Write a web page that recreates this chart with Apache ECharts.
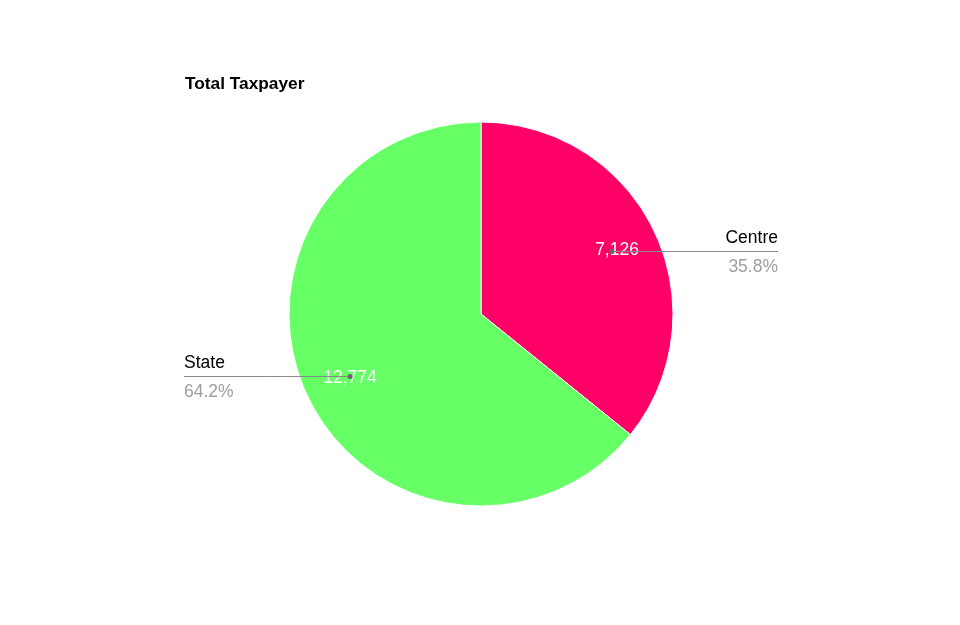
<!DOCTYPE html>
<html>
<head>
<meta charset="utf-8">
<script src="https://cdn.jsdelivr.net/npm/echarts@6/dist/echarts.min.js"></script>
<style>html,body{margin:0;padding:0;background:#fff}#c{width:960px;height:625px}</style>
</head>
<body>
<div id="c"></div>
<script>
const titleText = 'Total Taxpayer';
const categories = ['Centre', 'State'];
const values = [7126, 12774];
const colors = ['#ff0066', '#66ff66'];

const CX = 481, CY = 314, R = 192, R_DOT = 145;
const LEFT_EDGE = 184, RIGHT_EDGE = 778;
const FS = 17.5;
const FONT = 'Liberation Sans, Arial, sans-serif';

const total = values.reduce((a, b) => a + b, 0);
const midAngles = [];
let cum = 0;
values.forEach(v => {
  const deg = 90 - (cum + v / 2) / total * 360;
  midAngles.push(deg * Math.PI / 180);
  cum += v;
});
function anchor(i) {
  const a = midAngles[i];
  return [CX + R_DOT * Math.cos(a), CY - R_DOT * Math.sin(a)];
}

const data = categories.map((c, i) => ({ name: c, value: values[i], itemStyle: { color: colors[i] } }));
const ghostData = categories.map((c, i) => ({ name: c, value: values[i] }));
const ghost = { color: 'rgba(0,0,0,0)', borderWidth: 0 };

const chart = echarts.init(document.getElementById('c'), null, { renderer: 'canvas' });
chart.setOption({
  animation: false,
  title: {
    text: titleText, left: 180, top: 71,
    textStyle: { fontFamily: FONT, fontWeight: 'bold', fontSize: 17.3, color: '#000' }
  },
  graphic: categories.map((c, i) => {
    const p = anchor(i);
    return { type: 'circle', silent: true, z: 100, shape: { cx: p[0], cy: p[1], r: 2.5 }, style: { fill: '#666' } };
  }),
  series: [
    {
      type: 'pie', z: 2, center: [CX, CY], radius: [0, R], startAngle: 90, clockwise: true,
      silent: true, avoidLabelOverlap: false,
      itemStyle: { borderColor: '#fff', borderWidth: 1 },
      data: data,
      label: { show: false },
      labelLine: { show: false }
    },
    {
      type: 'pie', z: 3, center: [CX, CY], radius: [0, R_DOT * 2], startAngle: 90, clockwise: true,
      silent: true, avoidLabelOverlap: false,
      itemStyle: ghost,
      data: ghostData,
      label: {
        show: true, position: 'inside',
        formatter: p => p.value.toLocaleString('en-US'),
        fontFamily: FONT, fontSize: FS, color: '#fff',
        offset: [2.5, 0]
      },
      labelLine: { show: false }
    },
    {
      type: 'pie', z: 5, center: [CX, CY], radius: [0, R], startAngle: 90, clockwise: true,
      percentPrecision: 1, avoidLabelOverlap: false, silent: true,
      itemStyle: ghost,
      data: ghostData,
      label: {
        show: true, position: 'outside',
        formatter: '{n|{b}}\n{p|{d}%}',
        rich: {
          n: { fontFamily: FONT, fontSize: FS, color: '#000', lineHeight: 29 },
          p: { fontFamily: FONT, fontSize: FS, color: '#9e9e9e', lineHeight: 29 }
        }
      },
      labelLine: { show: true, lineStyle: { color: '#8a8a8a', width: 1 } },
      labelLayout: function (p) {
        const a = midAngles[p.dataIndex];
        const pt = anchor(p.dataIndex);
        const right = Math.cos(a) > 0;
        const ex = right ? RIGHT_EDGE : LEFT_EDGE;
        return {
          x: ex, y: pt[1] + 1.5, align: right ? 'right' : 'left', verticalAlign: 'middle',
          labelLinePoints: [[pt[0], pt[1]], [(pt[0] + ex) / 2, pt[1]], [ex, pt[1]]]
        };
      }
    }
  ]
});
</script>
</body>
</html>
